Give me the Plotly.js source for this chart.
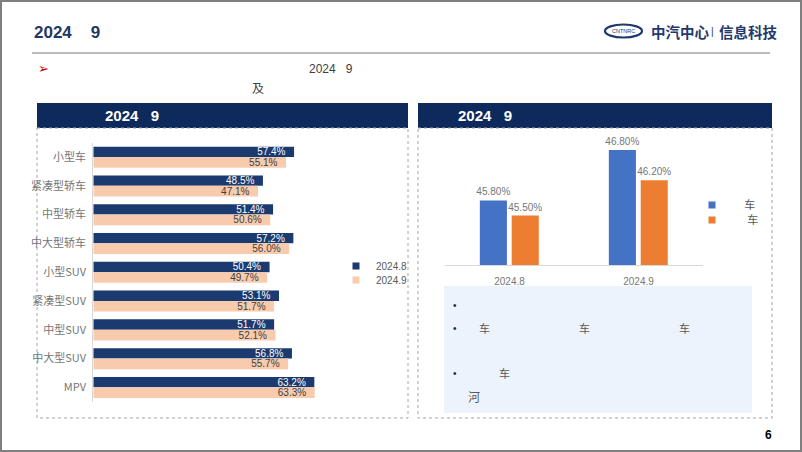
<!DOCTYPE html>
<html>
<head>
<meta charset="utf-8">
<script src="https://cdn.plot.ly/plotly-3.0.1.min.js"></script>
<style>html,body{margin:0;padding:0;background:#fff;}#chart{width:802px;height:452px;}</style>
</head>
<body>
<div id="chart"></div>
<script>
// ---- data ----
const categories = ['小型车','紧凑型轿车','中型轿车','中大型轿车','小型SUV','紧凑型SUV','中型SUV','中大型SUV','MPV'];
const valuesAug = [57.4, 48.5, 51.4, 57.2, 50.4, 53.1, 51.7, 56.8, 63.2];
const valuesSep = [55.1, 47.1, 50.6, 56.0, 49.7, 51.7, 52.1, 55.7, 63.3];
const leftSeriesNames = ['2024.8', '2024.9'];

const months = ['2024.8', '2024.9'];
const seriesA = [45.8, 46.8];
const seriesB = [45.5, 46.2];
const rightSeriesNames = ['\u00A0\u00A0\u00A0\u00A0车', '\u00A0\u00A0\u00A0\u00A0\u00A0车'];

// ---- helpers (pixel -> paper) ----
const W = 802, H = 452;
const X = p => p / W;
const Y = p => 1 - p / H;

const NAVY = '#0E2A5C';
const BAR_NAVY = '#1B3A6F';
const PEACH = '#F8CBAD';
const BLUE = '#4472C4';
const ORANGE = '#ED7D31';
const GRAY = '#595959';
const LGRAY = '#767676';
const NB = '\u00A0';

const traces = [
  {
    type: 'bar', orientation: 'h', y: categories, x: valuesAug, name: leftSeriesNames[0],
    xaxis: 'x', yaxis: 'y', marker: {color: BAR_NAVY}, width: 0.36, offset: -0.36,
    texttemplate: '%{x:.1f}%' + NB + NB, textposition: 'inside', insidetextanchor: 'end',
    textangle: 0, constraintext: 'none',
    textfont: {color: '#FFFFFF', size: 10, family: 'Liberation Sans, Arial'},
    showlegend: false, hoverinfo: 'skip'
  },
  {
    type: 'bar', orientation: 'h', y: categories, x: valuesSep, name: leftSeriesNames[1],
    xaxis: 'x', yaxis: 'y', marker: {color: PEACH}, width: 0.37, offset: 0,
    texttemplate: '%{x:.1f}%' + NB + NB, textposition: 'inside', insidetextanchor: 'end',
    textangle: 0, constraintext: 'none',
    textfont: {color: '#404040', size: 10, family: 'Liberation Sans, Arial'},
    showlegend: false, hoverinfo: 'skip'
  },
  {
    type: 'bar', x: months, y: seriesA, name: rightSeriesNames[0],
    xaxis: 'x2', yaxis: 'y2', marker: {color: BLUE}, width: 0.21, offset: -0.23,
    texttemplate: '%{y:.2f}%', textposition: 'outside', cliponaxis: false, constraintext: 'none',
    textfont: {color: LGRAY, size: 10, family: 'Liberation Sans, Arial'},
    showlegend: false, hoverinfo: 'skip'
  },
  {
    type: 'bar', x: months, y: seriesB, name: rightSeriesNames[1],
    xaxis: 'x2', yaxis: 'y2', marker: {color: ORANGE}, width: 0.21, offset: 0.017,
    texttemplate: '%{y:.2f}%', textposition: 'outside', cliponaxis: false, constraintext: 'none',
    textfont: {color: LGRAY, size: 10, family: 'Liberation Sans, Arial'},
    showlegend: false, hoverinfo: 'skip'
  },
  // legend-only entries
  {type: 'scatter', mode: 'markers', x: [null], y: [null], xaxis: 'x', yaxis: 'y', name: leftSeriesNames[0],
   marker: {symbol: 'square', size: 7, color: BAR_NAVY}, legend: 'legend', hoverinfo: 'skip'},
  {type: 'scatter', mode: 'markers', x: [null], y: [null], xaxis: 'x', yaxis: 'y', name: leftSeriesNames[1],
   marker: {symbol: 'square', size: 7, color: PEACH}, legend: 'legend2', hoverinfo: 'skip'},
  {type: 'scatter', mode: 'markers', x: [null], y: [null], xaxis: 'x2', yaxis: 'y2', name: rightSeriesNames[0],
   marker: {symbol: 'square', size: 7, color: BLUE}, legend: 'legend3', hoverinfo: 'skip'},
  {type: 'scatter', mode: 'markers', x: [null], y: [null], xaxis: 'x2', yaxis: 'y2', name: rightSeriesNames[1],
   marker: {symbol: 'square', size: 7, color: ORANGE}, legend: 'legend4', hoverinfo: 'skip'}
];

function legendAt(px, py, size) {
  return {x: X(px), y: Y(py), xanchor: 'left', yanchor: 'middle', bgcolor: 'rgba(0,0,0,0)',
          borderwidth: 0, font: {size: size, color: GRAY, family: 'Liberation Sans, Arial, Noto Sans CJK SC'}};
}

function rect(x0, y0, x1, y1, opts) {
  return Object.assign({type: 'rect', xref: 'paper', yref: 'paper', x0: X(x0), x1: X(x1), y0: Y(y0), y1: Y(y1), layer: 'below'}, opts);
}
function txt(text, px, py, opts) {
  return Object.assign({text: text, xref: 'paper', yref: 'paper', x: X(px), y: Y(py), xanchor: 'left', yanchor: 'middle',
    showarrow: false, font: {size: 11, color: GRAY}}, opts);
}

const shapes = [
  rect(1, 1, 801, 451, {line: {color: '#7F7F7F', width: 2}, fillcolor: 'rgba(0,0,0,0)'}),
  {type: 'line', xref: 'paper', yref: 'paper', x0: X(32), x1: X(770), y0: Y(53), y1: Y(53), line: {color: '#A6A6A6', width: 1.5}},
  {type: 'circle', xref: 'paper', yref: 'paper', x0: X(605), x1: X(642), y0: Y(24.5), y1: Y(37.5), line: {color: '#1F3A6E', width: 2.2}},
  rect(37, 103, 408, 128, {fillcolor: NAVY, line: {width: 0}}),
  rect(37, 128, 408, 418, {fillcolor: 'rgba(0,0,0,0)', line: {color: '#A6A6A6', width: 1, dash: 'dot'}}),
  rect(418, 103, 772, 128, {fillcolor: NAVY, line: {width: 0}}),
  rect(418, 128, 772, 418, {fillcolor: 'rgba(0,0,0,0)', line: {color: '#A6A6A6', width: 1, dash: 'dot'}}),
  rect(444, 286, 752, 413, {fillcolor: '#EDF3FC', line: {width: 0}})
];

const annotations = [
  txt('<b>2024' + NB + NB + NB + NB + '9</b>', 32, 32, {font: {size: 17, color: '#1F3864', family: 'Liberation Sans, Arial'}}),
  txt('CNTNRC', 623.5, 31, {xanchor: 'center', font: {size: 5.5, color: '#1F3A6E', family: 'Liberation Sans Narrow, Liberation Sans'}}),
  txt('<b>中汽中心</b>', 649, 31, {font: {size: 14.5, color: '#1F3A6E', family: 'Noto Sans CJK SC'}}),
  txt('|', 712, 31, {xanchor: 'center', font: {size: 10, color: '#1F3A6E', family: 'Liberation Sans'}}),
  txt('<b>信息科技</b>', 717, 31, {font: {size: 14.5, color: '#1F3A6E', family: 'Noto Sans CJK SC'}}),
  txt('➢', 36, 69, {font: {size: 13, color: '#C00000', family: 'DejaVu Sans'}}),
  txt('2024' + NB + NB + NB + '9', 307, 69, {font: {size: 12, color: '#404040', family: 'Liberation Sans, Arial'}}),
  txt('及', 250, 87, {font: {size: 12, color: '#404040', family: 'Noto Sans CJK SC'}}),
  txt('<b>2024' + NB + NB + NB + '9</b>', 103, 116, {font: {size: 15, color: '#FFFFFF', family: 'Liberation Sans, Arial'}}),
  txt('<b>2024' + NB + NB + NB + '9</b>', 456, 116, {font: {size: 15, color: '#FFFFFF', family: 'Liberation Sans, Arial'}}),
  txt('•', 451, 305, {font: {size: 10, color: '#262626'}}),
  txt('•', 451, 328, {font: {size: 10, color: '#262626'}}),
  txt('•', 451, 373, {font: {size: 10, color: '#262626'}}),
  txt('车', 477, 328, {font: {size: 11, color: GRAY, family: 'Noto Sans CJK SC'}}),
  txt('车', 577, 328, {font: {size: 11, color: GRAY, family: 'Noto Sans CJK SC'}}),
  txt('车', 677, 328, {font: {size: 11, color: GRAY, family: 'Noto Sans CJK SC'}}),
  txt('车', 497, 373, {font: {size: 11, color: GRAY, family: 'Noto Sans CJK SC'}}),
  txt('河', 466, 396, {font: {size: 12, color: GRAY, family: 'Noto Sans CJK SC'}}),
  txt('<b>6</b>', 768, 435, {xanchor: 'center', font: {size: 12, color: '#000000', family: 'Liberation Sans, Arial'}})
];

const layout = {
  width: W, height: H,
  margin: {l: 0, r: 0, t: 0, b: 0},
  paper_bgcolor: '#FFFFFF', plot_bgcolor: 'rgba(0,0,0,0)',
  font: {family: 'Liberation Sans, Arial, Noto Sans CJK SC', color: GRAY},
  showlegend: true,
  xaxis: {domain: [X(93.3), X(373.1)], range: [0, 80], visible: false, fixedrange: true},
  yaxis: {domain: [Y(401.7), Y(142.6)], type: 'category', categoryarray: categories, categoryorder: 'array',
          autorange: 'reversed', showline: true, linecolor: '#D9D9D9', linewidth: 1, showgrid: false, zeroline: false,
          ticks: '', ticklabelstandoff: 4,
          tickfont: {size: 11, color: LGRAY, family: 'Noto Sans CJK SC, Liberation Sans'}, fixedrange: true},
  xaxis2: {domain: [X(445), X(703)], type: 'category', anchor: 'y2', showline: true, linecolor: '#D9D9D9', linewidth: 1,
           ticks: '', showgrid: false, zeroline: false, ticklabelstandoff: 7,
           tickfont: {size: 10, color: LGRAY, family: 'Liberation Sans, Arial'}, fixedrange: true},
  yaxis2: {domain: [Y(265), Y(139.8)], range: [44.52, 47.0], anchor: 'x2', visible: false, fixedrange: true},
  legend: legendAt(336, 266, 10),
  legend2: legendAt(336, 280, 10),
  legend3: legendAt(692, 205, 11),
  legend4: legendAt(692, 220, 11),
  shapes: shapes,
  annotations: annotations
};

Plotly.newPlot('chart', traces, layout, {staticPlot: true, displayModeBar: false});
</script>
</body>
</html>
